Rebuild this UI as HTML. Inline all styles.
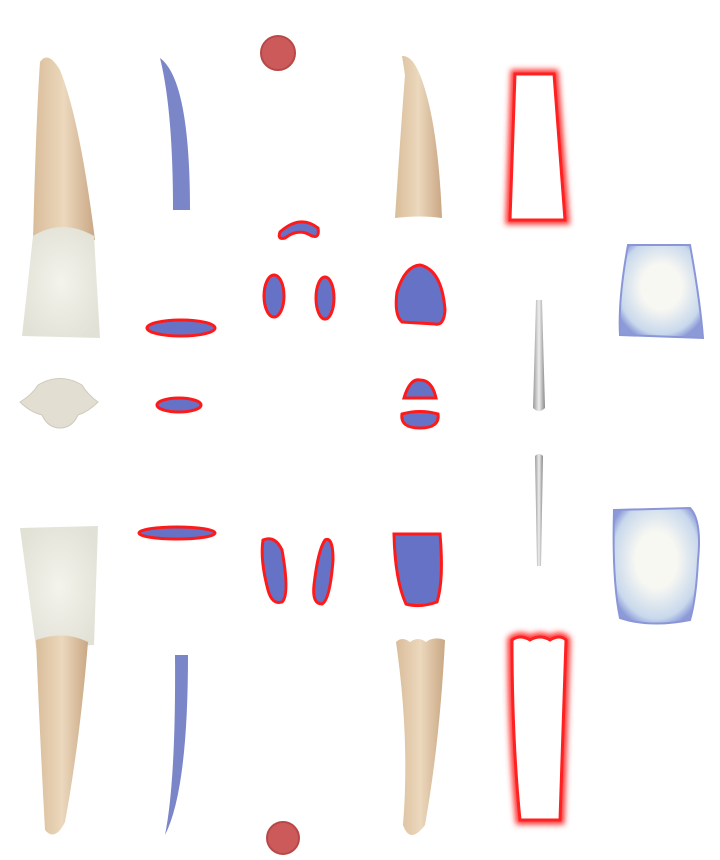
<!DOCTYPE html>
<html><head><meta charset="utf-8"><style>
html,body{margin:0;padding:0;background:#fff;width:720px;height:860px;overflow:hidden}
svg{display:block}
</style></head><body>
<svg width="720" height="860" viewBox="0 0 720 860">
<defs>
<linearGradient id="root" x1="0" x2="1"><stop offset="0" stop-color="#d9bd9a"/><stop offset="0.5" stop-color="#ecd8bd"/><stop offset="1" stop-color="#c9a784"/></linearGradient>
<radialGradient id="crown" cx="0.5" cy="0.5" r="0.6"><stop offset="0" stop-color="#f4f3ec"/><stop offset="1" stop-color="#e2e1d6"/></radialGradient>
<radialGradient id="bluecrown" cx="0.5" cy="0.45" r="0.6"><stop offset="0.4" stop-color="#f8f8f2"/><stop offset="0.85" stop-color="#c8d8ec"/><stop offset="1" stop-color="#8c9ad8"/></radialGradient>
<filter id="glow" x="-30%" y="-30%" width="160%" height="160%"><feGaussianBlur stdDeviation="3"/></filter>
<linearGradient id="needle" x1="0" x2="1"><stop offset="0" stop-color="#999"/><stop offset="0.5" stop-color="#eee"/><stop offset="1" stop-color="#888"/></linearGradient>
</defs>

<path d="M40 62 Q48 50 60 70 Q80 120 95 240 L33 240 Q36 120 40 62Z" fill="url(#root)"/>
<path d="M33 236 Q62 218 94 236 L100 338 L22 336 Z" fill="url(#crown)"/>
<path d="M160 58 Q190 80 190 210 L173 210 Q173 110 160 58Z" fill="#7b86c8"/>
<circle cx="278" cy="53" r="17" fill="#cc5a5a" stroke="#b84848" stroke-width="2"/>
<path d="M402 56 Q412 55 420 75 Q438 120 442 218 Q420 215 395 218 Q400 140 405 75Z" fill="url(#root)"/>
<g>
<path d="M515 74 L554 74 L565 220 L510 220 Z" fill="none" stroke="#ff3030" stroke-width="9" filter="url(#glow)"/>
<path d="M515 74 L554 74 L565 220 L510 220 Z" fill="#fff" stroke="#ff2020" stroke-width="3"/>
</g>
<g stroke="#ff1a1a" stroke-width="3" fill="#6572c6">
<path d="M280 232 Q300 214 318 228 Q320 240 310 235 Q298 228 285 238 Q277 240 280 232Z"/>
<ellipse cx="274" cy="296" rx="10" ry="21"/>
<ellipse cx="325" cy="298" rx="9" ry="21"/>
<path d="M420 265 Q442 270 445 310 Q444 326 435 324 L402 322 Q394 315 397 292 Q405 266 420 265Z"/>
<ellipse cx="181" cy="328" rx="34" ry="8"/>
<ellipse cx="179" cy="405" rx="22" ry="7"/>
<path d="M404 398 Q410 378 420 380 Q432 380 436 398Z"/>
<path d="M402 414 Q420 409 438 414 Q440 428 420 428 Q400 428 402 414Z"/>
<ellipse cx="177" cy="533" rx="38" ry="6"/>
<path d="M263 540 Q275 535 282 550 Q290 595 282 602 Q272 605 268 590 Q260 560 263 540Z"/>
<path d="M325 540 Q333 536 333 560 Q330 600 322 604 Q312 604 314 585 Q318 550 325 540Z"/>
<path d="M394 534 L440 534 Q444 580 437 602 Q420 608 406 604 Q395 580 394 534Z"/>
</g>
<g>
<path d="M628 245 L690 245 Q700 300 703 338 L620 335 Q618 300 628 245Z" fill="url(#bluecrown)" stroke="#8a96d8" stroke-width="2"/>
</g>
<g>
<path d="M614 510 L690 508 Q702 520 698 560 Q696 600 690 620 Q650 628 620 618 Q612 580 614 510Z" fill="url(#bluecrown)" stroke="#8a96d8" stroke-width="2"/>
</g>
<path d="M536 300 L542 300 L545 408 Q539 414 533 408Z" fill="url(#needle)"/>
<path d="M535 456 Q539 452 543 456 L541 566 L537 566Z" fill="url(#needle)"/>
<path d="M20 402 Q32 395 38 385 Q60 372 82 385 Q88 395 98 402 Q88 412 78 415 Q72 428 60 428 Q48 428 42 415 Q30 412 20 402Z" fill="#e2ded2" stroke="#cfcabb"/>
<path d="M20 528 L98 526 L94 645 L36 648 Z" fill="url(#crown)"/>
<path d="M36 640 Q65 630 88 642 Q80 740 65 822 Q55 842 45 830 Q40 740 36 640Z" fill="url(#root)"/>
<path d="M175 655 L188 655 Q188 790 165 835 Q176 780 175 655Z" fill="#7b86c8"/>
<path d="M396 642 Q402 636 410 642 Q418 636 426 642 Q434 636 445 640 Q440 740 425 825 Q410 845 403 825 Q410 740 396 642Z" fill="url(#root)"/>
<g>
<path d="M512 640 Q520 634 530 640 Q540 634 550 640 Q560 634 566 640 L560 820 L520 820 Q512 740 512 640Z" fill="none" stroke="#ff3030" stroke-width="9" filter="url(#glow)"/>
<path d="M512 640 Q520 634 530 640 Q540 634 550 640 Q560 634 566 640 L560 820 L520 820 Q512 740 512 640Z" fill="#fff" stroke="#ff2020" stroke-width="3"/>
</g>
<circle cx="283" cy="838" r="16" fill="#cc5a5a" stroke="#b84848" stroke-width="2"/>
</svg>
</body></html>
